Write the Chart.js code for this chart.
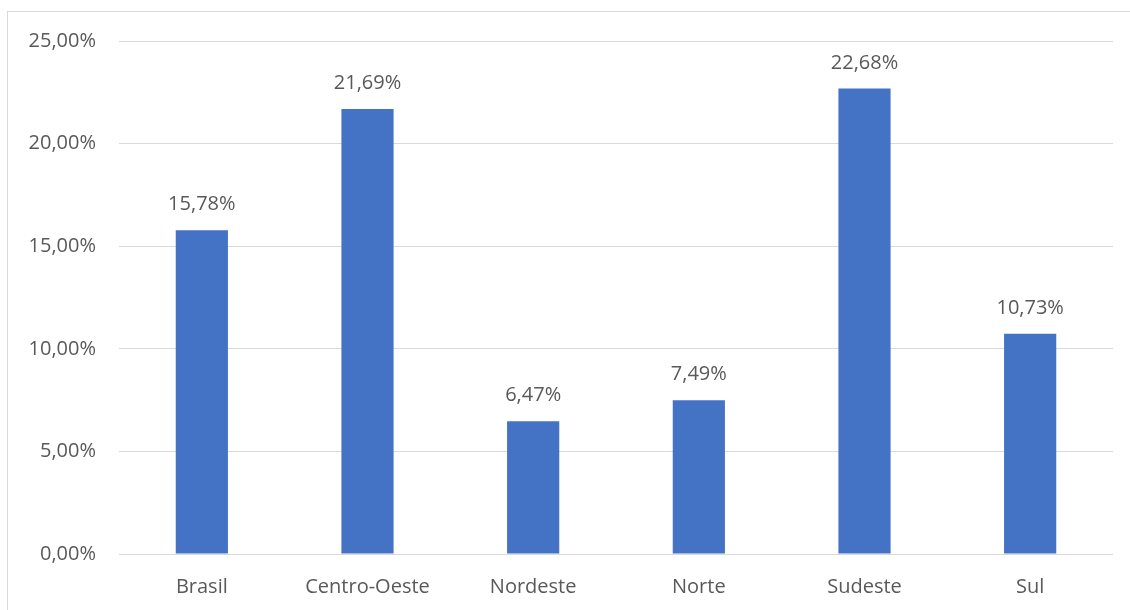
<!DOCTYPE html>
<html>
<head>
<meta charset="utf-8">
<script src="https://cdn.jsdelivr.net/npm/chart.js@4/dist/chart.umd.min.js"></script>
<style>
  html, body { margin: 0; padding: 0; background: #ffffff; }
  #wrap { position: relative; width: 1130px; height: 610px; overflow: hidden; }
  #frame { position: absolute; left: 7px; top: 11px; width: 1140px; height: 620px;
           border: 1px solid #d9d9d9; box-sizing: border-box; }
  #c { position: absolute; left: 0; top: 0; }
</style>
</head>
<body>
<div id="wrap">
  <div id="frame"></div>
  <canvas id="c" width="1130" height="610"></canvas>
</div>
<script>
// Regiões e percentuais
const regioes = ['Brasil', 'Centro-Oeste', 'Nordeste', 'Norte', 'Sudeste', 'Sul'];
const percentuais = [15.78, 21.69, 6.47, 7.49, 22.68, 10.73];
const marcasEixo = [0, 5, 10, 15, 20, 25];

const FONTE = '"Open Sans", "Noto Sans", sans-serif';
const COR_TEXTO = '#595959';
const TAM = 20;

function formatoPct(v) {
  return v.toFixed(2).replace('.', ',') + '%';
}

// Rótulos de valor acima das barras
const rotulosBarras = {
  id: 'rotulosBarras',
  afterDatasetsDraw(chart) {
    const ctx = chart.ctx;
    const meta = chart.getDatasetMeta(0);
    ctx.save();
    ctx.font = TAM + 'px ' + FONTE;
    ctx.fillStyle = COR_TEXTO;
    ctx.textAlign = 'center';
    ctx.textBaseline = 'alphabetic';
    meta.data.forEach((bar, i) => {
      ctx.fillText(formatoPct(percentuais[i]), bar.x, bar.y - 20);
    });
    ctx.restore();
  }
};

new Chart(document.getElementById('c'), {
  type: 'bar',
  data: {
    labels: regioes,
    datasets: [{
      data: percentuais,
      backgroundColor: '#4472c4',
      borderWidth: 0,
      categoryPercentage: 1.0,
      barPercentage: 0.315
    }]
  },
  options: {
    responsive: false,
    animation: false,
    devicePixelRatio: 1,
    layout: { padding: { top: 41, right: 17, left: 0, bottom: 0 } },
    plugins: {
      legend: { display: false },
      tooltip: { enabled: false }
    },
    scales: {
      x: {
        grid: { display: false, drawTicks: false },
        border: { display: false },
        ticks: {
          color: COR_TEXTO,
          font: { family: FONTE, size: TAM },
          padding: 21
        },
        afterFit(scale) { scale.height = 56; }
      },
      y: {
        min: 0,
        max: 25,
        afterBuildTicks(scale) {
          scale.ticks = marcasEixo.map(v => ({ value: v }));
        },
        grid: { color: '#d9d9d9', lineWidth: 1, drawTicks: false },
        border: { display: false },
        ticks: {
          color: COR_TEXTO,
          font: { family: FONTE, size: TAM },
          padding: 23,
          callback: v => formatoPct(v)
        },
        afterFit(scale) { scale.width = 119; }
      }
    }
  },
  plugins: [rotulosBarras]
});
</script>
</body>
</html>
